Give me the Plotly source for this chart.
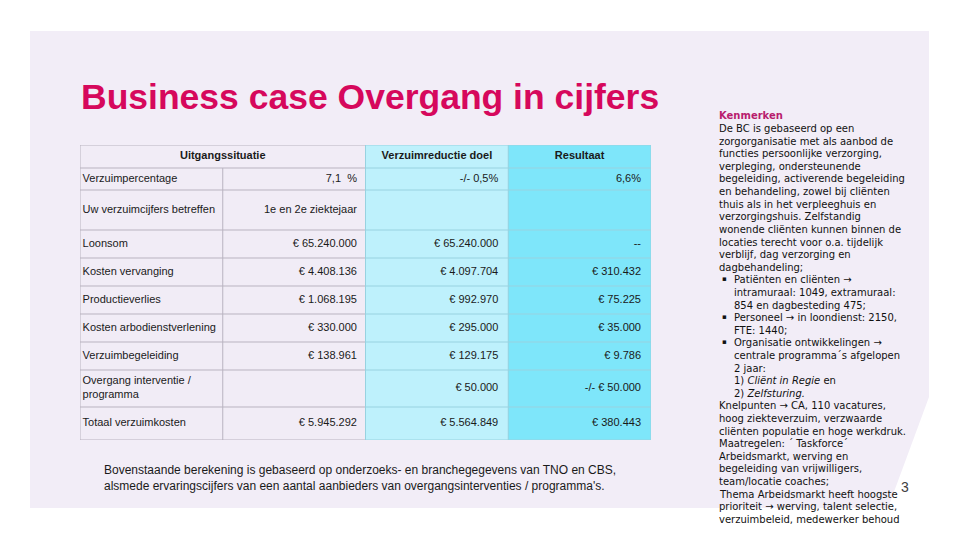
import plotly.graph_objects as go

# ---------------- data ----------------
headers = ["Uitgangssituatie", "Verzuimreductie doel", "Resultaat"]
row_labels = [
    "Verzuimpercentage",
    "Uw verzuimcijfers betreffen",
    "Loonsom",
    "Kosten vervanging",
    "Productieverlies",
    "Kosten arbodienstverlening",
    "Verzuimbegeleiding",
    "Overgang interventie /<br>programma",
    "Totaal verzuimkosten",
]
uitgangssituatie = ["7,1\u00a0\u00a0%", "1e en 2e ziektejaar", "€ 65.240.000", "€ 4.408.136",
                    "€ 1.068.195", "€ 330.000", "€ 138.961", "", "€ 5.945.292"]
verzuimreductie = ["-/- 0,5%", "", "€ 65.240.000", "€ 4.097.704", "€ 992.970",
                   "€ 295.000", "€ 129.175", "€ 50.000", "€ 5.564.849"]
resultaat = ["6,6%", "", "--", "€ 310.432", "€ 75.225", "€ 35.000", "€ 9.786",
             "-/- € 50.000", "€ 380.443"]

title_text = "Business case Overgang in cijfers"
footnote_lines = [
    "Bovenstaande berekening is gebaseerd op onderzoeks- en branchegegevens van TNO en CBS,",
    "alsmede ervaringscijfers van een aantal aanbieders van overgangsinterventies / programma's.",
]
side_heading = "Kenmerken"
# (indent level, text, bullet)
side_lines = [
    (0, "De BC is gebaseerd op een", False),
    (0, "zorgorganisatie met als aanbod de", False),
    (0, "functies persoonlijke verzorging,", False),
    (0, "verpleging, ondersteunende", False),
    (0, "begeleiding, activerende begeleiding", False),
    (0, "en behandeling, zowel bij cliënten", False),
    (0, "thuis als in het verpleeghuis en", False),
    (0, "verzorgingshuis. Zelfstandig", False),
    (0, "wonende cliënten kunnen binnen de", False),
    (0, "locaties terecht voor o.a. tijdelijk", False),
    (0, "verblijf, dag verzorging en", False),
    (0, "dagbehandeling;", False),
    (1, "Patiënten en cliënten →", True),
    (1, "intramuraal: 1049, extramuraal:", False),
    (1, "854 en dagbesteding 475;", False),
    (1, "Personeel → in loondienst: 2150,", True),
    (1, "FTE: 1440;", False),
    (1, "Organisatie ontwikkelingen →", True),
    (1, "centrale programma´s afgelopen", False),
    (1, "2 jaar:", False),
    (1, "1) <i>Cliënt in Regie</i> en", False),
    (1, "2) <i>Zelfsturing.</i>", False),
    (0, "Knelpunten → CA, 110 vacatures,", False),
    (0, "hoog ziekteverzuim, verzwaarde", False),
    (0, "cliënten populatie en hoge werkdruk.", False),
    (0, "Maatregelen: ´ Taskforce´", False),
    (0, "Arbeidsmarkt, werving en", False),
    (0, "begeleiding van vrijwilligers,", False),
    (0, "team/locatie coaches;", False),
    (0, "Thema Arbeidsmarkt heeft hoogste", False),
    (0, "prioriteit → werving, talent selectie,", False),
    (0, "verzuimbeleid, medewerker behoud", False),
]
slide_number = "3"

# ---------------- layout helpers ----------------
# the page body has an 8px margin, so the figure is drawn 8px in from the window corner
OFF = 8
W, H = 960 - OFF, 540 - OFF
FONT = "Liberation Sans, Arial, sans-serif"
SIDE_FONT = "DejaVu Sans, Verdana, sans-serif"
LAV = "#F1ECF6"
LIGHT = "#BEF1FC"
CYAN = "#7EE6FA"
GRID_L = "#B9B3C0"
GRID_C = "#98D2E0"

# table geometry (pixel heights of header + rows)
row_heights = [23, 22, 40, 28, 28, 28, 28, 28, 37, 33]
edges = [0]
for h in row_heights:
    edges.append(edges[-1] + h)
centers = [(edges[i] + edges[i + 1]) / 2 for i in range(len(row_heights))]
data_centers = centers[1:]
tbl_top, tbl_left, tbl_right = 145, 80, 651
tbl_bottom = tbl_top + edges[-1]


def px(x):
    return (x - OFF) / W


def py(y):
    return 1 - (y - OFF) / H


fig = go.Figure()

# cell fills
col_code = [0, 0, 1, 2]
z = [col_code[:] for _ in row_heights]
fig.add_trace(go.Heatmap(
    x=[0, 1, 2, 3, 4], y=edges, z=z, zmin=0, zmax=2,
    colorscale=[[0, LAV], [0.5, LIGHT], [1, CYAN]],
    showscale=False, hoverinfo="skip",
))

# cell texts
tfont = dict(family=FONT, size=11, color="#1a1a1a")
fig.add_trace(go.Scatter(x=[0.018] * len(row_labels), y=data_centers, text=row_labels,
                         mode="text", textposition="middle right", textfont=tfont,
                         hoverinfo="skip", showlegend=False))
fig.add_trace(go.Scatter(x=[1.94] * len(uitgangssituatie), y=data_centers, text=uitgangssituatie,
                         mode="text", textposition="middle left", textfont=tfont,
                         hoverinfo="skip", showlegend=False))
fig.add_trace(go.Scatter(x=[2.93] * len(verzuimreductie), y=data_centers, text=verzuimreductie,
                         mode="text", textposition="middle left", textfont=tfont,
                         hoverinfo="skip", showlegend=False))
fig.add_trace(go.Scatter(x=[3.93] * len(resultaat), y=data_centers, text=resultaat,
                         mode="text", textposition="middle left", textfont=tfont,
                         hoverinfo="skip", showlegend=False))
fig.add_trace(go.Scatter(x=[1, 2.5, 3.5], y=[centers[0]] * 3,
                         text=["<b>%s</b>" % h for h in headers],
                         mode="text", textposition="middle center", textfont=tfont,
                         hoverinfo="skip", showlegend=False))

# grid lines
shapes = []
# slide background panel
shapes.append(dict(type="path", xref="paper", yref="paper", layer="below",
                   path="M %f,%f L %f,%f L %f,%f L %f,%f L %f,%f Z" % (
                       px(30), py(31), px(929), py(31), px(929), py(397),
                       px(888), py(508), px(30), py(508)),
                   fillcolor="#F2EDF7", line=dict(width=0)))
for e in edges:
    shapes.append(dict(type="line", xref="x", yref="y", x0=0, x1=2, y0=e, y1=e,
                       line=dict(color=GRID_L, width=1)))
    shapes.append(dict(type="line", xref="x", yref="y", x0=2, x1=4, y0=e, y1=e,
                       line=dict(color=GRID_C, width=1)))
shapes.append(dict(type="line", xref="x", yref="y", x0=0, x1=0, y0=0, y1=edges[-1],
                   line=dict(color=GRID_L, width=1)))
shapes.append(dict(type="line", xref="x", yref="y", x0=1, x1=1, y0=edges[1], y1=edges[-1],
                   line=dict(color=GRID_L, width=1)))
for xv in [2, 3, 4]:
    shapes.append(dict(type="line", xref="x", yref="y", x0=xv, x1=xv, y0=0, y1=edges[-1],
                       line=dict(color=GRID_C, width=1)))

annotations = []
annotations.append(dict(text="<b>%s</b>" % title_text, x=px(79), y=py(97), xref="paper", yref="paper",
                        xanchor="left", yanchor="middle", showarrow=False,
                        font=dict(family=FONT, size=35.5, color="#D6085C")))
for i, line in enumerate(footnote_lines):
    annotations.append(dict(text=line, x=px(102), y=py(470 + i * 16), xref="paper", yref="paper",
                            xanchor="left", yanchor="middle", showarrow=False,
                            font=dict(family=FONT, size=12, color="#1a1a1a")))
side_font = dict(family=SIDE_FONT, size=10, color="#111111")
annotations.append(dict(text="<b>%s</b>" % side_heading, x=px(717), y=py(116), xref="paper", yref="paper",
                        xanchor="left", yanchor="middle", showarrow=False,
                        font=dict(family=SIDE_FONT, size=10, color="#B81D6E")))
for i, (lvl, line, bullet) in enumerate(side_lines):
    yy = 116 + (i + 1) * 12.6
    xx = 717 if lvl == 0 else 732
    annotations.append(dict(text=line, x=px(xx), y=py(yy), xref="paper", yref="paper",
                            xanchor="left", yanchor="middle", showarrow=False, font=side_font))
    if bullet:
        annotations.append(dict(text="▪", x=px(720), y=py(yy - 0.5), xref="paper", yref="paper",
                                xanchor="left", yanchor="middle", showarrow=False,
                                font=dict(family=SIDE_FONT, size=7, color="#111111")))
annotations.append(dict(text=slide_number, x=px(905), y=py(487), xref="paper", yref="paper",
                        xanchor="center", yanchor="middle", showarrow=False,
                        font=dict(family=FONT, size=14, color="#404040")))

fig.update_layout(
    width=W, height=H, margin=dict(l=0, r=0, t=0, b=0),
    paper_bgcolor="white", plot_bgcolor="rgba(0,0,0,0)",
    xaxis=dict(domain=[px(tbl_left), px(tbl_right)], range=[0, 4], visible=False, fixedrange=True),
    yaxis=dict(domain=[py(tbl_bottom), py(tbl_top)], range=[edges[-1], 0], visible=False, fixedrange=True),
    shapes=shapes, annotations=annotations, showlegend=False,
)

fig.write_html("out.html")
